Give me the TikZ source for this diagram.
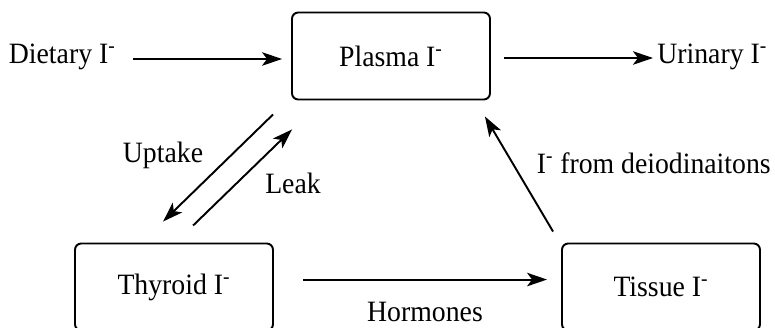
\documentclass[tikz,border=0pt]{standalone}
\usepackage{fontspec}
\setmainfont{Liberation Serif}
\newfontfamily\timesfont[FakeStretch=0.94]{Liberation Serif}
\usetikzlibrary{arrows.meta,calc}

\begin{document}
\begin{tikzpicture}[x=0.02cm,y=-0.02cm,
  every node/.style={font=\timesfont\fontsize{16.8}{20}\selectfont},
  pool/.style={draw,line width=1.1pt,rounded corners=3.5pt,minimum width=3.96cm,minimum height=1.74cm},
  txt/.style={inner sep=0pt},
  flow/.style={line width=1.1pt,-{Stealth[length=0.4cm,width=0.27cm,inset=0.1cm]}}]
  % rahmen
  \useasboundingbox (0,0) rectangle (775,328);
  \clip (0,0) rectangle (775,328);

  % kompartimente
  \node[pool] (plasma)  at (391,56)  {Plasma I\textsuperscript{-}};
  \node[pool] (thyroid) at (174,287) {Thyroid I\textsuperscript{-}};
  \node[pool] (tissue)  at (661,287) {Tissue I\textsuperscript{-}};

  % zu- und abfluss
  \node[txt,anchor=east] (dietary) at (116,57) {Dietary I\textsuperscript{-}};
  \node[txt,anchor=west] (urinary) at (657,57) {Urinary I\textsuperscript{-}};

  % pfeile
  \draw[flow] ($(dietary.east)+(17,2)$) -- ($(plasma.west)+(-9,3)$);
  \draw[flow] ($(plasma.east)+(13,2)$) -- ($(urinary.west)+(-4,1)$);
  \draw[flow] ($(plasma.south west)+(-18,14)$) -- ($(thyroid.north west)+(89,-21)$);
  \draw[flow] ($(thyroid.north west)+(119,-17)$) -- ($(plasma.south west)+(1,29)$);
  \draw[flow] ($(thyroid.north east)+(29,37)$) -- ($(tissue.north west)+(-14,37)$);
  \draw[flow] ($(tissue.north west)+(-8,-11)$) -- ($(plasma.south east)+(-6,16)$);

  % beschriftungen
  \node[txt] (uptake)   at (163,155) {Uptake};
  \node[txt] (leak)     at (293,183) {Leak};
  \node[txt] (hormones) at (425,312) {Hormones};
  \node[txt,anchor=east] (deiod) at (771,163) {I\textsuperscript{-} from deiodinaitons};
\end{tikzpicture}
\end{document}
